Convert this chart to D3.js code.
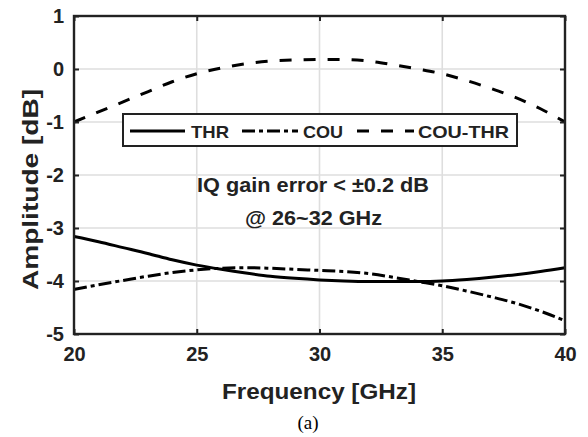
<!DOCTYPE html>
<html>
<head>
<meta charset="utf-8">
<script src="https://cdn.jsdelivr.net/npm/d3@7"></script>
<style>
  html, body { margin: 0; padding: 0; background: #fff; }
  svg { display: block; }
  text { font-family: "Liberation Sans", Arial, sans-serif; }
</style>
</head>
<body>
<svg id="chart" width="588" height="437"></svg>
<script>
// ---- data ----
const freq = [20,21,22,23,24,25,26,27,28,29,30,31,32,33,34,35,36,37,38,39,40];
const thr  = [-3.16,-3.26,-3.37,-3.48,-3.60,-3.70,-3.78,-3.85,-3.91,-3.95,-3.98,-4.00,-4.01,-4.01,-4.01,-4.00,-3.97,-3.93,-3.88,-3.82,-3.75];
const cou  = [-4.16,-4.07,-3.99,-3.91,-3.84,-3.79,-3.76,-3.75,-3.76,-3.78,-3.80,-3.82,-3.86,-3.93,-4.01,-4.09,-4.19,-4.30,-4.42,-4.57,-4.75];
const couThr = [-1.00,-0.81,-0.62,-0.43,-0.24,-0.09,0.02,0.10,0.15,0.17,0.18,0.18,0.15,0.08,0.00,-0.09,-0.22,-0.37,-0.54,-0.75,-1.00];
const seriesNames = ["THR","COU","COU-THR"];
const xTicks = [20,25,30,35,40];
const yTicks = [1,0,-1,-2,-3,-4,-5];
const annotation = ["IQ gain error < \u00B10.2 dB", "@ 26~32 GHz"];

// ---- layout ----
const L = 74, R = 565, T = 16, B = 334;
const svg = d3.select("#chart");
const x = d3.scaleLinear().domain([20,40]).range([L,R]);
const y = d3.scaleLinear().domain([-5,1]).range([B,T]);
const ink = "#222";
const fmt = d => String(d);

// grid
const grid = svg.append("g");
grid.selectAll("line.gx").data(xTicks).join("line")
  .attr("x1", d=>x(d)).attr("x2", d=>x(d)).attr("y1", T).attr("y2", B)
  .attr("stroke", "#dedede").attr("stroke-width", 1.6);
grid.selectAll("line.gy").data(yTicks).join("line")
  .attr("y1", d=>y(d)).attr("y2", d=>y(d)).attr("x1", L).attr("x2", R)
  .attr("stroke", "#dedede").attr("stroke-width", 1.6);

// series
const styles = [
  {data: thr, dash: null},
  {data: cou, dash: "13,4,4,4"},
  {data: couThr, dash: "12,12"}
];
const line = d3.line().x((d,i)=>x(freq[i])).y(d=>y(d)).curve(d3.curveMonotoneX);
const plot = svg.append("g");
styles.forEach(s => {
  plot.append("path").datum(s.data)
    .attr("d", line).attr("fill","none").attr("stroke","#000")
    .attr("stroke-width", 3).attr("stroke-dasharray", s.dash);
});

// axes
function styleAxis(g) {
  g.select(".domain").remove();
  g.selectAll(".tick line").attr("stroke", ink).attr("stroke-width", 2);
  g.selectAll(".tick text").attr("fill", ink)
    .style("font-family", '"Liberation Sans", Arial, sans-serif')
    .style("font-weight", "bold").style("font-size", "20px");
}
svg.append("g").attr("transform", `translate(0,${B})`)
  .call(d3.axisBottom(x).tickValues(xTicks).tickSize(-5).tickPadding(13).tickFormat(fmt))
  .call(styleAxis);
svg.append("g").attr("transform", `translate(0,${T})`)
  .call(d3.axisTop(x).tickValues(xTicks).tickSize(-5).tickFormat(""))
  .call(styleAxis);
svg.append("g").attr("transform", `translate(${L},0)`)
  .call(d3.axisLeft(y).tickValues(yTicks).tickSize(-5).tickPadding(10).tickFormat(fmt))
  .call(styleAxis);
svg.append("g").attr("transform", `translate(${R},0)`)
  .call(d3.axisRight(y).tickValues(yTicks).tickSize(-5).tickFormat(""))
  .call(styleAxis);

// frame
svg.append("rect").attr("x", L).attr("y", T).attr("width", R-L).attr("height", B-T)
  .attr("fill","none").attr("stroke", ink).attr("stroke-width", 2.4);

// legend
const lg = svg.append("g");
lg.append("rect").attr("x",123).attr("y",114).attr("width",394).attr("height",32)
  .attr("fill","#fff").attr("stroke", ink).attr("stroke-width", 2);
const legItems = [
  {x1:130, x2:185, tx:191, tl:38},
  {x1:242, x2:298, tx:303, tl:40},
  {x1:357, x2:414, tx:418, tl:91}
];
legItems.forEach((it,i) => {
  lg.append("line").attr("x1",it.x1).attr("x2",it.x2).attr("y1",131).attr("y2",131)
    .attr("stroke","#000").attr("stroke-width",3).attr("stroke-dasharray", styles[i].dash);
  lg.append("text").attr("x",it.tx).attr("y",137.5).text(seriesNames[i])
    .attr("font-size",17).attr("font-weight","bold").attr("fill",ink)
    .attr("textLength", it.tl).attr("lengthAdjust","spacingAndGlyphs");
});

// annotation
svg.append("text").attr("x",197).attr("y",192).text(annotation[0])
  .attr("font-size",21).attr("font-weight","bold").attr("fill",ink)
  .attr("textLength",232).attr("lengthAdjust","spacingAndGlyphs");
svg.append("text").attr("x",245).attr("y",225).text(annotation[1])
  .attr("font-size",21).attr("font-weight","bold").attr("fill",ink)
  .attr("textLength",137).attr("lengthAdjust","spacingAndGlyphs");

// axis titles
svg.append("text").attr("x",222).attr("y",399).text("Frequency [GHz]")
  .attr("font-size",22).attr("font-weight","bold").attr("fill",ink)
  .attr("textLength",194).attr("lengthAdjust","spacingAndGlyphs");
svg.append("text").attr("transform","translate(38,290) rotate(-90)").text("Amplitude [dB]")
  .attr("font-size",22).attr("font-weight","bold").attr("fill",ink)
  .attr("textLength",201).attr("lengthAdjust","spacingAndGlyphs");

// caption
svg.append("text").attr("x",308).attr("y",429).attr("text-anchor","middle").text("(a)")
  .style("font-family",'"Liberation Serif", "Times New Roman", serif').attr("font-size",19).attr("fill","#000");
</script>
</body>
</html>
